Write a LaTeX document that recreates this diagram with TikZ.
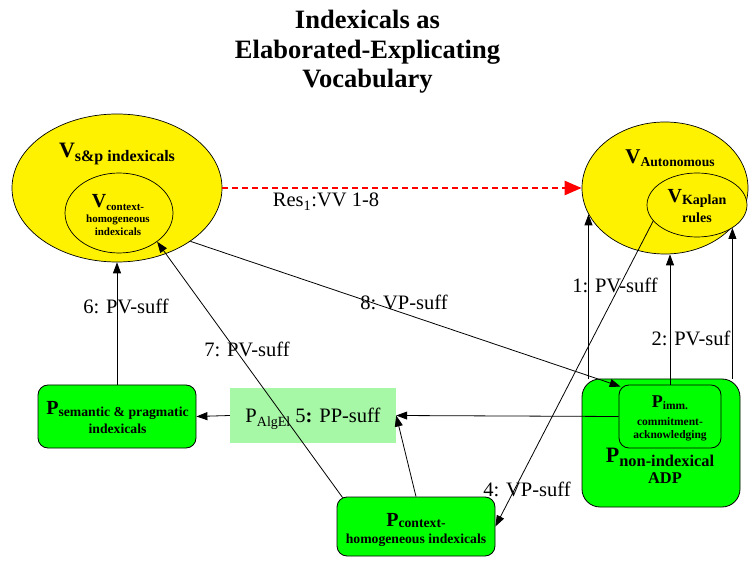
\documentclass[tikz,border=0pt]{standalone}
\usepackage{fontspec}
\setmainfont{Liberation Serif}
\usetikzlibrary{shapes.geometric,arrows.meta,calc}
\newcommand\fsz[2]{\fontsize{#1}{#2}\selectfont}
\definecolor{algcol}{RGB}{166,247,166}
\begin{document}
\begin{tikzpicture}[x=1pt,y=-1pt,
  ell/.style={ellipse, draw=black, fill=yellow, line width=0.7pt, inner sep=0pt},
  gbox/.style={rectangle, rounded corners=10pt, draw=black, fill=green, line width=0.8pt, inner sep=0pt},
  txt/.style={inner sep=0pt, align=center},
  lbl/.style={inner sep=0pt, anchor=base, font=\fsz{20.5}{24}},
  arr/.style={-{Triangle[length=11pt,width=8pt]}, line width=0.8pt},
  resarr/.style={red, line width=2.5pt, dash pattern=on 6pt off 4pt, -{Triangle[length=17pt,width=14pt]}}]
\useasboundingbox (0,0) rectangle (750,561);

% title
\node[txt, anchor=north, font=\bfseries\fsz{26.5}{29.5}] (title) at (367.5,10)
  {Indexicals as\\Elaborated-Explicating\\Vocabulary};

% shapes
\node[ell, minimum width=210pt, minimum height=148pt] (bigL) at (117,188) {};
\node[ell, minimum width=108pt, minimum height=80pt] (inL) at (119,213) {};
\node[ell, minimum width=166pt, minimum height=132pt] (bigR) at (665,188) {};
\node[ell, minimum width=100pt, minimum height=64pt] (kap) at (697,205) {};
\node[gbox, minimum width=158pt, minimum height=63pt] (semp) at (117,416.5) {};
\node[rectangle, fill=algcol, minimum width=166pt, minimum height=55pt, inner sep=0pt] (alg) at (313,415.5) {};
\node[gbox, rounded corners=18pt, minimum width=158pt, minimum height=128pt] (nonidx) at (661,443) {};
\node[gbox, minimum width=102pt, minimum height=63pt] (imm) at (670,416.5) {};
\node[gbox, minimum width=158pt, minimum height=59pt] (ctx) at (416,526.5) {};

% texts in shapes
\node[txt, anchor=base, font=\bfseries\fsz{16}{18}] (tbigL) at (117,158)
  {{\fsz{22}{22}V}\raisebox{-4pt}{s\&p indexicals}};
\node[txt, font=\bfseries\fsz{11}{12.5}] (tinL) at (118,215)
  {{\fsz{20}{20}V}\raisebox{-3pt}{context-}\\[2.5pt]homogeneous\\indexicals};
\node[txt, anchor=base, font=\bfseries\fsz{13.6}{16}] (tbigR) at (670,164)
  {{\fsz{21}{21}V}\raisebox{-3pt}{Autonomous}};
\node[txt, font=\bfseries\fsz{14}{20}] (tkap) at (697,206.5)
  {{\fsz{20}{20}V}\raisebox{-2pt}{Kaplan}\\rules};
\node[txt, font=\bfseries\fsz{13.7}{19}] (tsemp) at (117.5,418)
  {{\fsz{20}{20}P}\raisebox{-2pt}{semantic \& pragmatic}\\indexicals};
\node[txt, anchor=base, font=\fsz{20.5}{24}] (talg) at (313,422)
  {P\raisebox{-4pt}{\fsz{14}{14}AlgEl} 5\textbf{:} PP-suff};
\node[txt, font=\bfseries\fsz{11.5}{13}] (timm) at (670,418)
  {{\fsz{18}{18}P}\raisebox{-2pt}{imm.}\\[5pt]commitment-\\acknowledging};
\node[txt, font=\bfseries\fsz{16.4}{21}] (tnon) at (660,465.5)
  {{\fsz{22}{22}P}\raisebox{-4pt}{non-indexical}\\\hspace*{10pt}ADP};
\node[txt, font=\bfseries\fsz{13.7}{17}] (tctx) at (416,530)
  {{\fsz{20}{20}P}\raisebox{-1pt}{context-}\\homogeneous indexicals};

% connectors
\draw[resarr] (bigL.east) -- (bigR.west);
\draw[arr] (semp.north) -- (bigL.south);
\draw[arr] (alg.west) -- (semp.east);
\draw[arr] (imm.west) -- (alg.east);
\draw[arr] (ctx.north) -- (alg.east);
\draw[arr] ($(ctx.north west)+(6,1)$) -- (inL.-37);
\draw[arr] (bigL.-36) -- ($(imm.north west)+(2,2)$);
\draw[arr] (kap.200) -- (ctx.east);
\draw[arr] (nonidx.north -| bigR.199) -- (bigR.199);
\draw[arr] (imm.north) -- (imm.north |- bigR.south);
\draw[arr] (kap.-33 |- nonidx.north) -- (kap.-33);

% labels
\node[lbl] (lres) at (326,207) {Res\textsubscript{1}:VV 1-8};
\node[lbl] (l1) at (615,293) {1: PV-suff};
\node[lbl] (l2) at (691,346) {2: PV-suf};
\node[lbl] (l4) at (527,496) {4: VP-suff};
\node[lbl] (l6) at (126,314) {6: PV-suff};
\node[lbl] (l7) at (247,356) {7: PV-suff};
\node[lbl] (l8) at (404,310) {8: VP-suff};
\end{tikzpicture}
\end{document}
